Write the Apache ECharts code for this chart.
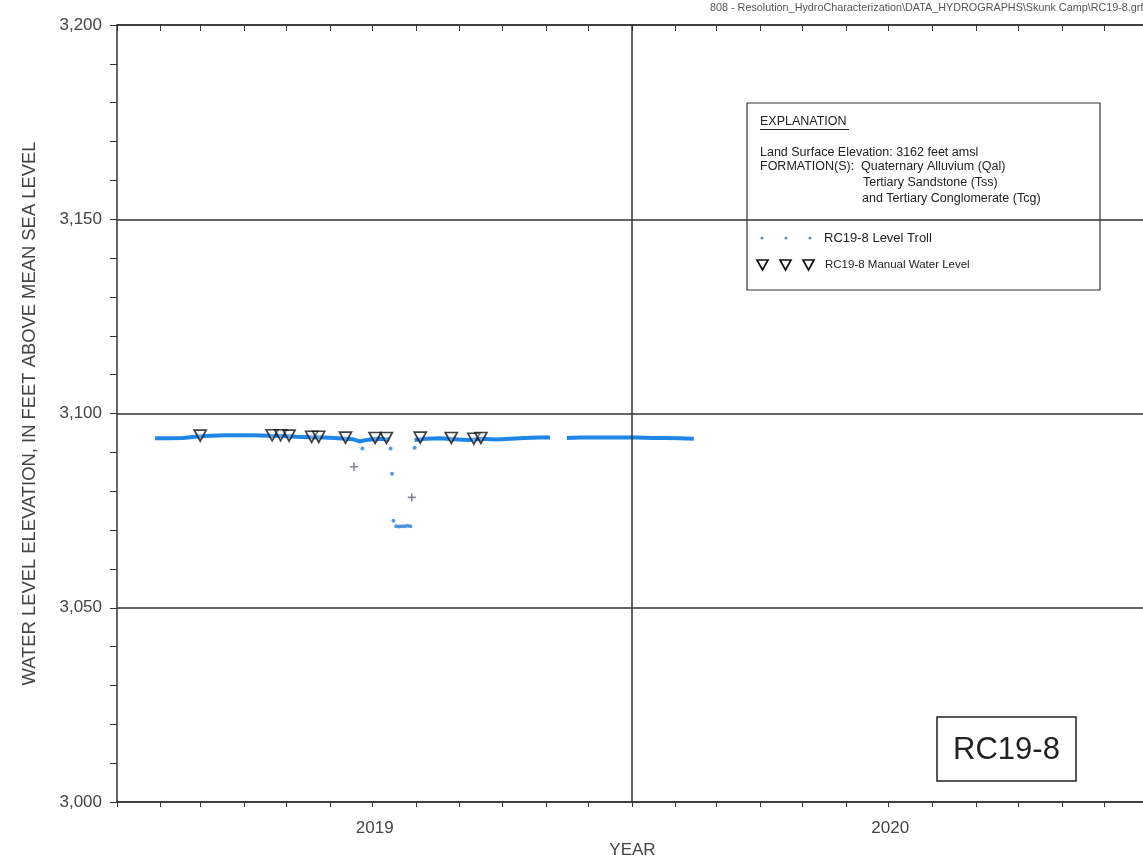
<!DOCTYPE html>
<html><head><meta charset="utf-8">
<script src="https://cdn.jsdelivr.net/npm/echarts@6/dist/echarts.min.js"></script>
<style>html,body{margin:0;padding:0;background:#fff}#c{width:1143px;height:857px}</style>
</head><body><div id="c"></div>
<script>
// ---- data ----
const yearLabels = ['2019', '2020'];
const yearBoundary = ['2020-01-01'];

const trollDates = ['2019-01-28','2019-02-07','2019-02-17','2019-02-27','2019-03-09','2019-03-19','2019-03-29',
  '2019-04-08','2019-04-18','2019-04-28','2019-05-08','2019-05-18','2019-05-28','2019-06-07','2019-06-17',
  '2019-06-22','2019-06-27','2019-07-05','2019-07-13','2019-07-20','2019-07-31','2019-08-08','2019-08-18',
  '2019-08-28','2019-09-07','2019-09-17','2019-09-27','2019-10-07','2019-10-17','2019-10-27','2019-11-04',
  '2019-11-10','2019-11-16','2019-11-26','2019-12-06','2019-12-16','2019-12-26','2020-01-05','2020-01-15',
  '2020-01-25','2020-02-04','2020-02-14'];
const trollLevels = [3093.6,3093.6,3093.7,3094.1,3094.3,3094.4,3094.4,
  3094.4,3094.3,3094.2,3094.0,3093.9,3093.8,3093.6,3093.4,
  3092.8,3093.2,3093.5,3093.3,null,3093.2,3093.5,3093.6,
  3093.4,3093.2,3093.5,3093.3,3093.5,3093.7,3093.8,3093.8,
  null,3093.7,3093.8,3093.8,3093.8,3093.8,3093.8,3093.7,
  3093.7,3093.6,3093.5];

const spikeDates = ['2019-06-24','2019-07-14','2019-07-15','2019-07-16','2019-07-18','2019-07-20','2019-07-22',
  '2019-07-24','2019-07-26','2019-07-28','2019-07-31'];
const spikeLevels = [3091.0,3091.0,3084.5,3072.4,3071.0,3070.9,3071.0,3071.0,3071.1,3071.0,3091.2];

const crossDates = ['2019-06-18','2019-07-29'];
const crossLevels = [3086.3,3078.4];

const manualDates = ['2019-03-01','2019-04-21','2019-04-27','2019-05-03','2019-05-19','2019-05-24','2019-06-12',
  '2019-07-03','2019-07-11','2019-08-04','2019-08-26','2019-09-11','2019-09-16'];
const manualLevels = [3094.3,3094.4,3094.4,3094.3,3094.0,3094.0,3093.8,3093.7,3093.7,3093.8,3093.7,3093.5,3093.7];

// ---- chart ----
const pair = (ds, vs) => ds.map((d, i) => [d, vs[i] == null ? '-' : vs[i]]);
const DAY = 86400000;
const xMin = new Date(2019, 0, 1).getTime();
const xMax = new Date(2021, 0, 1).getTime();
const AX = '#333';
const TXT = '#444';
const FONT = '"Liberation Sans", Arial, sans-serif';

const timeAxisBase = {
  type: 'time', min: xMin, max: xMax, splitNumber: 24,
  minInterval: 28 * DAY, maxInterval: 31 * DAY,
  axisLabel: { show: false }, splitLine: { show: false },
  axisLine: { show: true, lineStyle: { color: AX, width: 1.5 } }
};

const chart = echarts.init(document.getElementById('c'), null, { renderer: 'canvas' });
chart.setOption({
  backgroundColor: '#fff',
  animation: false,
  textStyle: { fontFamily: FONT },
  grid: { left: 117, top: 25, right: -5, bottom: 55, containLabel: false, outerBoundsMode: 'none' },
  xAxis: [
    Object.assign({}, timeAxisBase, {
      position: 'bottom',
      axisTick: { show: true, length: 5, lineStyle: { color: AX, width: 1 } }
    }),
    Object.assign({}, timeAxisBase, {
      position: 'top',
      axisTick: { show: true, inside: true, length: 6, lineStyle: { color: AX, width: 1 } }
    }),
    {
      type: 'category', data: yearLabels, position: 'bottom', boundaryGap: true,
      axisLine: { show: false }, axisTick: { show: false }, splitLine: { show: false },
      axisLabel: { fontSize: 17, color: TXT, margin: 18, fontFamily: FONT },
      name: 'YEAR', nameLocation: 'middle', nameGap: 38,
      nameTextStyle: { fontSize: 17, color: TXT, fontFamily: FONT }
    }
  ],
  yAxis: {
    type: 'value', min: 3000, max: 3200, interval: 50,
    axisLine: { show: true, lineStyle: { color: AX, width: 1.5 } },
    axisTick: { show: true, length: 7, lineStyle: { color: AX, width: 1 } },
    minorTick: { show: true, splitNumber: 5, length: 7, lineStyle: { color: AX, width: 1 } },
    splitLine: { show: true, lineStyle: { color: AX, width: 1.5 } },
    axisLabel: { fontSize: 17, color: TXT, margin: 15, fontFamily: FONT,
      formatter: v => v.toLocaleString('en-US') },
    name: 'WATER LEVEL ELEVATION, IN FEET ABOVE MEAN SEA LEVEL',
    nameLocation: 'middle', nameGap: 78,
    nameTextStyle: { fontSize: 18.4, color: TXT, fontFamily: FONT }
  },
  series: [
    {
      name: 'RC19-8 Level Troll', type: 'line', xAxisIndex: 0,
      data: pair(trollDates, trollLevels), showSymbol: false, connectNulls: false,
      lineStyle: { color: '#1f86e8', width: 4 }, z: 3,
      markLine: {
        silent: true, symbol: 'none', label: { show: false },
        lineStyle: { color: AX, width: 1.5, type: 'solid' },
        data: yearBoundary.map(d => ({ xAxis: d }))
      }
    },
    {
      name: 'RC19-8 Level Troll', type: 'scatter', xAxisIndex: 0,
      data: pair(spikeDates, spikeLevels), symbolSize: 4,
      itemStyle: { color: '#2a7fd6' }, z: 4
    },
    {
      name: 'RC19-8 Level Troll', type: 'scatter', xAxisIndex: 0,
      data: pair(crossDates, crossLevels),
      symbol: 'path://M4,0H6V4H10V6H6V10H4V6H0V4H4Z', symbolSize: 8,
      itemStyle: { color: '#667' }, z: 4
    },
    {
      name: 'RC19-8 Manual Water Level', type: 'scatter', xAxisIndex: 0,
      data: pair(manualDates, manualLevels),
      symbol: 'triangle', symbolRotate: 180, symbolSize: [12, 11],
      itemStyle: { color: 'rgba(255,255,255,0.35)', borderColor: '#111', borderWidth: 1.7 }, z: 6
    }
  ],
  graphic: [
    { type: 'text', x: 710, y: 8, z: 100,
      style: { text: '808 - Resolution_HydroCharacterization\\DATA_HYDROGRAPHS\\Skunk Camp\\RC19-8.grf',
        font: '10.8px ' + FONT, fill: '#555', verticalAlign: 'middle' } },
    { type: 'group', z: 100, children: [
      { type: 'rect', shape: { x: 747, y: 103, width: 353, height: 187 },
        style: { fill: '#fff', stroke: '#333', lineWidth: 1.2 } },
      { type: 'text', x: 760, y: 122, style: { text: 'EXPLANATION', font: '12.5px ' + FONT, fill: '#222', verticalAlign: 'middle' } },
      { type: 'line', shape: { x1: 760, y1: 129.5, x2: 849, y2: 129.5 }, style: { stroke: '#222', lineWidth: 1 } },
      { type: 'text', x: 760, y: 153, style: { text: 'Land Surface Elevation: 3162 feet amsl', font: '12.5px ' + FONT, fill: '#222', verticalAlign: 'middle' } },
      { type: 'text', x: 760, y: 167, style: { text: 'FORMATION(S):', font: '12.5px ' + FONT, fill: '#222', verticalAlign: 'middle' } },
      { type: 'text', x: 861, y: 167, style: { text: 'Quaternary Alluvium (Qal)', font: '12.5px ' + FONT, fill: '#222', verticalAlign: 'middle' } },
      { type: 'text', x: 863, y: 183, style: { text: 'Tertiary Sandstone (Tss)', font: '12.5px ' + FONT, fill: '#222', verticalAlign: 'middle' } },
      { type: 'text', x: 862, y: 199, style: { text: 'and Tertiary Conglomerate (Tcg)', font: '12.5px ' + FONT, fill: '#222', verticalAlign: 'middle' } },
      { type: 'circle', shape: { cx: 762, cy: 238, r: 1.6 }, style: { fill: '#6a8fb0' } },
      { type: 'circle', shape: { cx: 786, cy: 238, r: 1.6 }, style: { fill: '#6a8fb0' } },
      { type: 'circle', shape: { cx: 810, cy: 238, r: 1.6 }, style: { fill: '#6a8fb0' } },
      { type: 'text', x: 824, y: 238, style: { text: 'RC19-8 Level Troll', font: '13px ' + FONT, fill: '#222', verticalAlign: 'middle' } },
      { type: 'polygon', shape: { points: [[757, 260], [768, 260], [762.5, 270]] }, style: { fill: 'none', stroke: '#111', lineWidth: 1.7 } },
      { type: 'polygon', shape: { points: [[780, 260], [791, 260], [785.5, 270]] }, style: { fill: 'none', stroke: '#111', lineWidth: 1.7 } },
      { type: 'polygon', shape: { points: [[803, 260], [814, 260], [808.5, 270]] }, style: { fill: 'none', stroke: '#111', lineWidth: 1.7 } },
      { type: 'text', x: 825, y: 265, style: { text: 'RC19-8 Manual Water Level', font: '11.5px ' + FONT, fill: '#222', verticalAlign: 'middle' } }
    ] },
    { type: 'group', z: 100, children: [
      { type: 'rect', shape: { x: 937, y: 717, width: 139, height: 64 },
        style: { fill: '#fff', stroke: '#222', lineWidth: 1.5 } },
      { type: 'text', x: 1006.5, y: 750, style: { text: 'RC19-8', font: '31px ' + FONT, fill: '#222', align: 'center', verticalAlign: 'middle' } }
    ] }
  ]
});
</script>
</body></html>
